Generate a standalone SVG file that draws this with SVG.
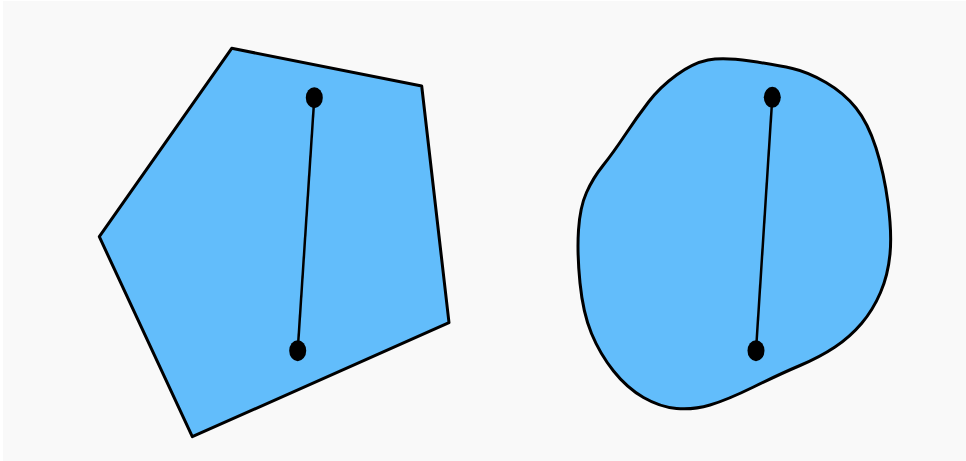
<svg xmlns="http://www.w3.org/2000/svg" width="966" height="461" viewBox="0 0 966 461">
<style>
.shape{fill:#62bdfb;stroke:#000;stroke-width:3;stroke-linejoin:round}
.seg{stroke:#000;stroke-width:2.5;fill:none}
.pt{fill:#000}
</style>
<rect x="0" y="0" width="966" height="461" fill="#ffffff"/>
<rect x="3" y="1" width="963" height="460" fill="#f9f9f9"/>
<g id="pentagon">
<polygon class="shape" points="231.7,48.3 421.7,86 449,322.7 192.3,436.7 99.3,236.7"/>
</g>
<g id="blob">
<path class="shape" d="M 750,61 Q 777,65 792.5,68.5 Q 808,72 826,82.5 Q 844,93 856,108 Q 868,123 876,148 Q 884,173 888,203 Q 892,233 890,254 Q 888,275 880.5,292.5 Q 873,310 861.5,323.5 Q 850,337 835,347 Q 820,357 800,365.5 Q 780,374 753.5,387 Q 727,400 710,405 Q 693,410 676.5,408.5 Q 660,407 643.5,397.5 Q 627,388 613.5,371 Q 600,354 591.5,333.5 Q 583,313 580,283 Q 577,253 578.5,230 Q 580,207 586.5,192.5 Q 593,178 603,165.5 Q 613,153 625,135 Q 637,117 648.5,102 Q 660,87 676.5,75 Q 693,63 708,60 Q 723,57 750,61 Z"/>
</g>
<g id="connectors">
<line class="seg" x1="314.3" y1="97.7" x2="297.7" y2="350.7"/>
<line class="seg" x1="772.3" y1="97.3" x2="756" y2="350.7"/>
</g>
<g id="p1"><ellipse class="pt" cx="314.3" cy="97.7" rx="8.5" ry="10.5"/></g>
<g id="p2"><ellipse class="pt" cx="297.7" cy="350.7" rx="8.5" ry="10.5"/></g>
<g id="p3"><ellipse class="pt" cx="772.3" cy="97.3" rx="8.5" ry="10.5"/></g>
<g id="p4"><ellipse class="pt" cx="756" cy="350.7" rx="8.5" ry="10.5"/></g>
</svg>
